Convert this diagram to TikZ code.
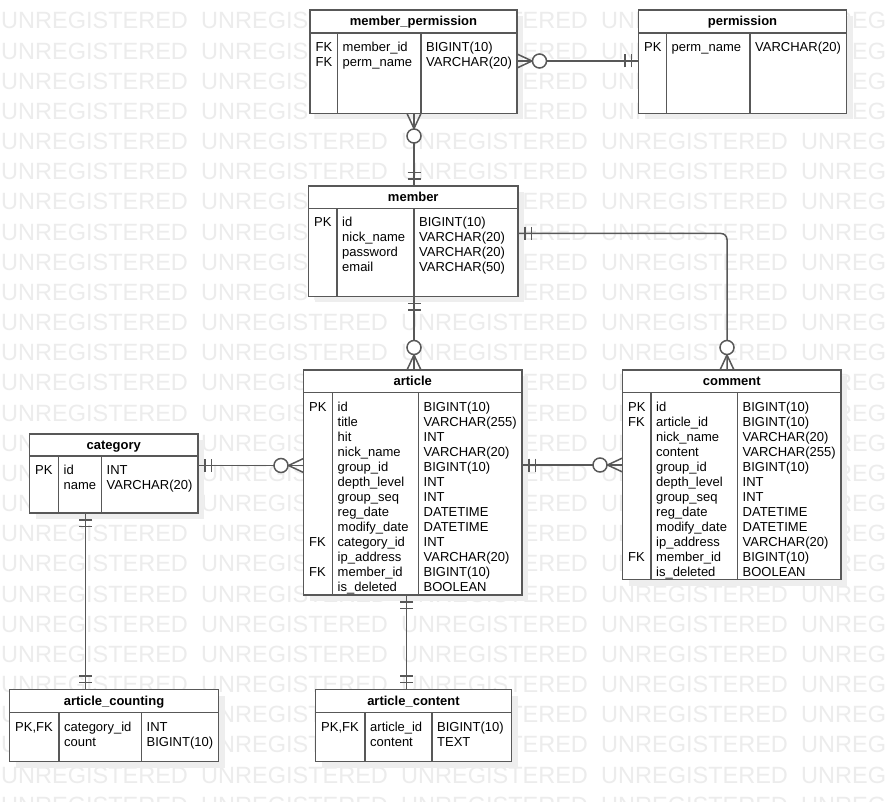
\documentclass[tikz,border=0pt]{standalone}
\usepackage{fontspec}
\setmainfont{Liberation Sans}
\usetikzlibrary{calc,shadows}
\definecolor{lg}{RGB}{88,88,88}
\definecolor{wm}{RGB}{236,236,236}
\definecolor{sh}{RGB}{238,238,238}
\tikzset{
 ent/.style={draw=lg, line width=1.5pt, fill=white, inner sep=0pt, outer sep=0pt, rectangle, anchor=north west,
   general shadow={fill=sh, shadow xshift=6pt, shadow yshift=-6pt}},
 bl/.style={draw=lg, line width=1.5pt},
 conn/.style={draw=lg, line width=1.5pt},
 cell/.style={inner sep=0pt, anchor=base west, font=\fontsize{13}{15}\selectfont},
 ttl/.style={inner sep=0pt, anchor=base, font=\fontsize{13}{15}\selectfont\bfseries},
 wmk/.style={inner sep=0pt, anchor=base west, text=wm, font=\fontsize{23.5}{25}\selectfont},
}
\def\erEmpty{}
% name, x1, y1, x2, y2, header bottom, col1, col2, title
\newcommand\erBox[9]{%
  \node[ent, minimum width={#4-#2}, minimum height={#5-#3}] (#1) at (#2,#3) {};
  \draw[bl] (#2,#6) -- (#4,#6);
  \draw[bl] (#7,#6) -- (#7,#5);
  \draw[bl] (#8,#6) -- (#8,#5);
  \node[ttl] (#1-title) at ({(#2+#4)/2},{(#3+#6)/2+4}) {#9};
}
% name, x1, header bottom, col1, col2, rows
\newcommand\erRows[6]{%
  \foreach \k/\n/\t [count=\i] in {#6}{%
    \ifx\k\erEmpty\else
      \node[cell] (#1-k\i) at ({#2+5.5},{#3+18.5+15*(\i-1)}) {\k};
    \fi
    \node[cell] (#1-n\i) at ({#4+5},{#3+18.5+15*(\i-1)}) {\n};
    \node[cell] (#1-t\i) at ({#5+5},{#3+18.5+15*(\i-1)}) {\t};
  }%
}
% one and only one: #1 end at entity, #2 direction point
\newcommand\erOne[2]{%
  \draw[conn] ($(#1)!7pt!(#2)!6.5pt!90:(#2)$) -- ($(#1)!7pt!(#2)!6.5pt!-90:(#2)$);
  \draw[conn] ($(#1)!13.5pt!(#2)!6.5pt!90:(#2)$) -- ($(#1)!13.5pt!(#2)!6.5pt!-90:(#2)$);
}
% zero or many
\newcommand\erMany[2]{%
  \draw[conn] ($(#1)!7pt!90:(#2)$) -- ($(#1)!15pt!(#2)$) -- ($(#1)!7pt!-90:(#2)$);
  \draw[conn, fill=white] ($(#1)!22.5pt!(#2)$) circle[radius=7pt];
}
\begin{document}
\begin{tikzpicture}[x=1pt,y=-1pt]
\useasboundingbox (0,0) rectangle (886,802);
\fill[white] (0,0) rectangle (886,802);
% watermark
\begin{scope}
  \clip (0,0) rectangle (886,802);
  \foreach \r in {-1,...,26}{%
    \foreach \c in {0,...,4}{%
      \node[wmk] (wm-\r-\c) at ({1+200*\c},{29+30.16*\r}) {UNREGISTERED};
    }%
  }
\end{scope}

% entities
\erBox{mp}{310}{10}{517}{113.5}{33}{337.5}{421}{member\_permission}
\erRows{mp}{310}{33}{337.5}{421}{FK/member\_id/BIGINT(10), FK/perm\_name/VARCHAR(20)}

\erBox{perm}{638.5}{10}{846.5}{113.5}{33}{666.5}{750}{permission}
\erRows{perm}{638.5}{33}{666.5}{750}{PK/perm\_name/VARCHAR(20)}

\erBox{member}{308.5}{186}{518}{296.5}{208.5}{337}{414}{member}
\erRows{member}{308.5}{208.5}{337}{414}{PK/id/BIGINT(10), /nick\_name/VARCHAR(20), /password/VARCHAR(20), /email/VARCHAR(50)}

\erBox{article}{303.5}{370}{522}{595}{392.5}{332.5}{418.5}{article}
\erRows{article}{303.5}{392.5}{332.5}{418.5}{PK/id/BIGINT(10), /title/VARCHAR(255), /hit/INT, /nick\_name/VARCHAR(20), /group\_id/BIGINT(10), /depth\_level/INT, /group\_seq/INT, /reg\_date/DATETIME, /modify\_date/DATETIME, FK/category\_id/INT, /ip\_address/VARCHAR(20), FK/member\_id/BIGINT(10), /is\_deleted/BOOLEAN}

\erBox{comment}{622.5}{370}{841}{579.5}{392.5}{651}{737.5}{comment}
\erRows{comment}{622.5}{392.5}{651}{737.5}{PK/id/BIGINT(10), FK/article\_id/BIGINT(10), /nick\_name/VARCHAR(20), /content/VARCHAR(255), /group\_id/BIGINT(10), /depth\_level/INT, /group\_seq/INT, /reg\_date/DATETIME, /modify\_date/DATETIME, /ip\_address/VARCHAR(20), FK/member\_id/BIGINT(10), /is\_deleted/BOOLEAN}

\erBox{category}{29.5}{434}{198}{513}{456}{58.5}{101.5}{category}
\erRows{category}{29.5}{456}{58.5}{101.5}{PK/id/INT, /name/VARCHAR(20)}

\erBox{ac}{9.5}{689.5}{218.5}{761.5}{712.5}{59}{141.5}{article\_counting}
\erRows{ac}{9.5}{712.5}{59}{141.5}{{PK,FK}/category\_id/INT, /count/BIGINT(10)}

\erBox{acont}{315.5}{689.5}{511.5}{761.5}{712.5}{365}{432}{article\_content}
\erRows{acont}{315.5}{712.5}{365}{432}{{PK,FK}/article\_id/BIGINT(10), /content/TEXT}

% connector end points
\coordinate (r1a) at (mp.east |- 0,61);
\coordinate (r1b) at (perm.west |- 0,61);
\coordinate (r2a) at (414,0 |- mp.south);
\coordinate (r2b) at (414,0 |- member.north);
\coordinate (r3a) at (414,0 |- member.south);
\coordinate (r3b) at (414,0 |- article.north);
\coordinate (r4a) at (member.east |- 0,233.5);
\coordinate (r4k) at (727,233.5);
\coordinate (r4b) at (727,0 |- comment.north);
\coordinate (r5a) at (article.east |- 0,465);
\coordinate (r5b) at (comment.west |- 0,465);
\coordinate (r6a) at (category.east |- 0,465.5);
\coordinate (r6b) at (article.west |- 0,465.5);
\coordinate (r7a) at (85.7,0 |- category.south);
\coordinate (r7b) at (85.7,0 |- ac.north);
\coordinate (r8a) at (406.7,0 |- article.south);
\coordinate (r8b) at (406.7,0 |- acont.north);

% connectors
\draw[conn] (r1a) -- (r1b);
\erMany{r1a}{r1b}\erOne{r1b}{r1a}

\draw[conn] (r2a) -- (r2b);
\erMany{r2a}{r2b}\erOne{r2b}{r2a}

\draw[conn] (r3a) -- (r3b);
\erOne{r3a}{r3b}\erMany{r3b}{r3a}

\draw[conn, rounded corners=6pt] (r4a) -- (r4k) -- (r4b);
\erOne{r4a}{r4k}\erMany{r4b}{r4k}

\draw[conn] (r5a) -- (r5b);
\erOne{r5a}{r5b}\erMany{r5b}{r5a}

\draw[conn] (r6a) -- (r6b);
\erOne{r6a}{r6b}\erMany{r6b}{r6a}

\draw[conn] (r7a) -- (r7b);
\erOne{r7a}{r7b}\erOne{r7b}{r7a}

\draw[conn] (r8a) -- (r8b);
\erOne{r8a}{r8b}\erOne{r8b}{r8a}
\end{tikzpicture}
\end{document}
